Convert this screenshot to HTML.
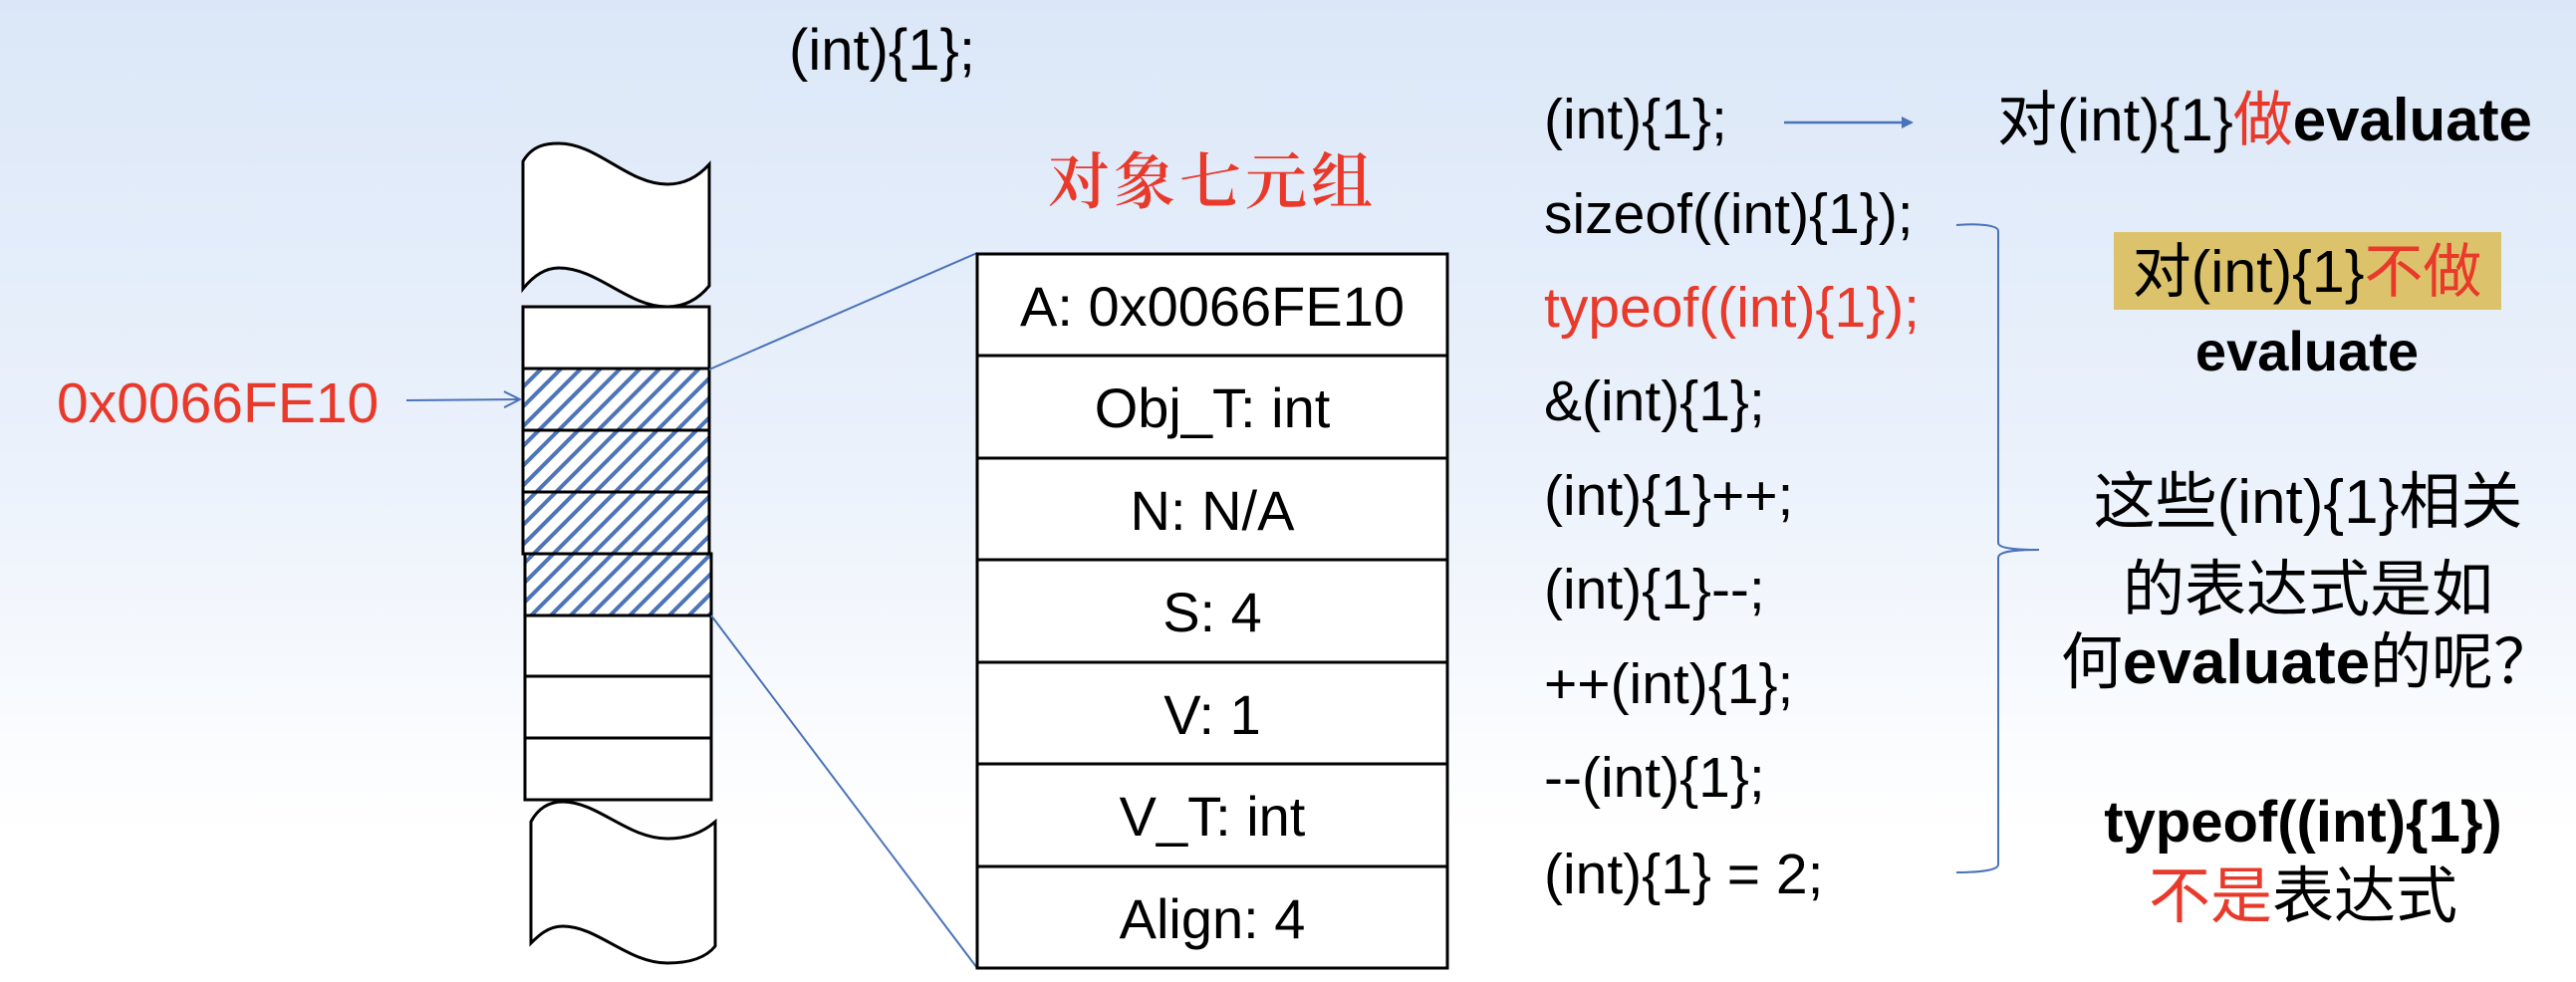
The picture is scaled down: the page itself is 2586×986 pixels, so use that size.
<!DOCTYPE html>
<html><head><meta charset="utf-8"><style>
html,body{margin:0;padding:0;}
body{width:2586px;height:986px;overflow:hidden;background:linear-gradient(#dbe7f8 0%,#eaf1fb 45%,#ffffff 85%);}
svg{display:block}
.s{font-family:"Liberation Sans","Noto Sans CJK SC",sans-serif;}
</style></head><body>
<svg width="2586" height="986" viewBox="0 0 2586 986" xmlns="http://www.w3.org/2000/svg">
<defs>
<pattern id="h" patternUnits="userSpaceOnUse" width="14" height="14" patternTransform="rotate(45)">
<rect width="14" height="14" fill="#fff"/><rect x="0" y="0" width="4" height="14" fill="#4d74b8"/>
</pattern>
<marker id="a" markerWidth="12" markerHeight="12" refX="10" refY="6" orient="auto" markerUnits="userSpaceOnUse">
<path d="M0,0 L12,6 L0,12 z" fill="#4a72b8"/></marker>
<marker id="o" markerWidth="20" markerHeight="20" refX="18" refY="10" orient="auto" markerUnits="userSpaceOnUse">
<path d="M2,2 L18,10 L2,18" fill="none" stroke="#4a72b8" stroke-width="2"/></marker>
</defs>

<text class="s" x="792" y="70" font-size="58">(int){1};</text>

<path d="M525,162 C535,145 550,144 561,144 C600,144 630,185 670,185 C690,185 703,175 712,165 L712,287 C703,298 690,308 670,308 C630,308 600,269 561,269 C545,269 533,280 525,290 Z" fill="#fff" stroke="#000" stroke-width="3"/>
<path d="M533,825 C540,812 550,805 565,805 C600,805 630,842 670,842 C695,842 710,832 718,825 L718,950 C710,960 695,967 670,967 C630,967 600,930 565,930 C550,930 540,940 533,947 Z" fill="#fff" stroke="#000" stroke-width="3"/>

<g stroke="#000" stroke-width="3">
<rect x="525" y="308" width="187" height="62" fill="#fff"/>
<rect x="525" y="370" width="187" height="62" fill="url(#h)"/>
<rect x="525" y="432" width="187" height="62" fill="url(#h)"/>
<rect x="525" y="494" width="187" height="62" fill="url(#h)"/>
<rect x="527" y="556" width="187" height="62" fill="url(#h)"/>
<rect x="527" y="618" width="187" height="61" fill="#fff"/>
<rect x="527" y="679" width="187" height="62" fill="#fff"/>
<rect x="527" y="741" width="187" height="62" fill="#fff"/>
</g>

<text class="s" x="57" y="424" font-size="57" fill="#e8392a">0x0066FE10</text>
<line x1="408" y1="402" x2="522" y2="401" stroke="#4a72b8" stroke-width="2" marker-end="url(#o)"/>

<line x1="712" y1="371" x2="981" y2="254" stroke="#4a72b8" stroke-width="2"/>
<line x1="714" y1="618" x2="981" y2="972" stroke="#4a72b8" stroke-width="2"/>

<text x="1217" y="204" font-size="62" fill="#e8392a" font-weight="600" text-anchor="middle" letter-spacing="4" font-family="'Noto Serif CJK SC',serif">对象七元组</text>

<g stroke="#000" stroke-width="3" fill="#fff">
<rect x="981" y="255" width="472" height="717"/>
<line x1="981" y1="357" x2="1453" y2="357"/>
<line x1="981" y1="460" x2="1453" y2="460"/>
<line x1="981" y1="562" x2="1453" y2="562"/>
<line x1="981" y1="665" x2="1453" y2="665"/>
<line x1="981" y1="767" x2="1453" y2="767"/>
<line x1="981" y1="870" x2="1453" y2="870"/>
</g>
<g class="s" font-size="56" text-anchor="middle">
<text x="1217" y="327">A: 0x0066FE10</text>
<text x="1217" y="429">Obj_T: int</text>
<text x="1217" y="532">N: N/A</text>
<text x="1217" y="634">S: 4</text>
<text x="1217" y="737">V: 1</text>
<text x="1217" y="839">V_T: int</text>
<text x="1217" y="942">Align: 4</text>
</g>

<g class="s" font-size="57">
<text x="1550" y="139">(int){1};</text>
<text x="1550" y="234">sizeof((int){1});</text>
<text x="1550" y="328" fill="#e8392a">typeof((int){1});</text>
<text x="1550" y="422">&amp;(int){1};</text>
<text x="1550" y="517">(int){1}++;</text>
<text x="1550" y="611">(int){1}--;</text>
<text x="1550" y="706">++(int){1};</text>
<text x="1550" y="800">--(int){1};</text>
<text x="1550" y="897">(int){1} = 2;</text>
</g>
<line x1="1791" y1="123" x2="1919" y2="123" stroke="#4a72b8" stroke-width="2.5" marker-end="url(#a)"/>

<path d="M1964,226 C1985,224 2006,226 2006,232 L2006,545 C2006,550 2020,552 2047,552 C2020,552 2006,554 2006,560 L2006,868 C2006,874 1985,876 1964,876" fill="none" stroke="#4a72b8" stroke-width="2"/>

<text class="s" x="2005" y="141" font-size="60">对(int){1}<tspan fill="#e8392a">做</tspan><tspan font-weight="bold">evaluate</tspan></text>

<rect x="2122" y="233" width="389" height="78" fill="#dcc36b"/>
<text class="s" x="2316" y="293" font-size="59" text-anchor="middle">对(int){1}<tspan fill="#e8392a">不做</tspan></text>
<text class="s" x="2316" y="372" font-size="56" font-weight="bold" text-anchor="middle">evaluate</text>

<g class="s" font-size="62" text-anchor="middle">
<text x="2317" y="525">这些(int){1}相关</text>
<text x="2317" y="613">的表达式是如</text>
<text x="2317" y="686">何<tspan font-weight="bold">evaluate</tspan>的呢？</text>
<text x="2312" y="845" font-weight="bold" font-size="58">typeof((int){1})</text>
<text x="2312" y="921"><tspan fill="#e8392a">不是</tspan>表达式</text>
</g>
</svg>
</body></html>
